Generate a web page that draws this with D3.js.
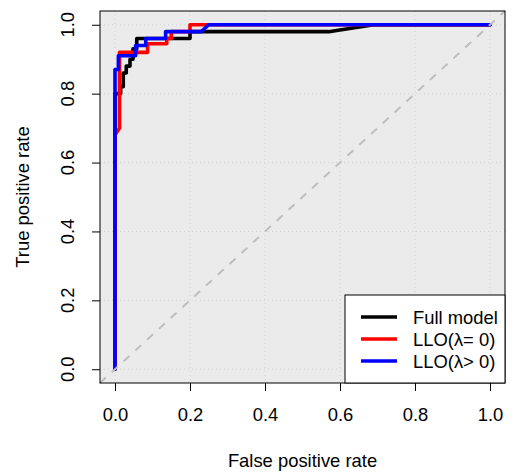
<!DOCTYPE html>
<html>
<head>
<meta charset="utf-8">
<script src="https://cdn.jsdelivr.net/npm/d3@7/dist/d3.min.js"></script>
<style>
html,body{margin:0;padding:0;background:#fff;}
svg{display:block;font-family:"Liberation Sans",Arial,Helvetica,sans-serif;}
</style>
</head>
<body>
<svg id="chart" width="512" height="472"></svg>
<script>
// ---- data ----
const ticks = [0, 0.2, 0.4, 0.6, 0.8, 1.0];
const seriesNames = ["Full model", "LLO(\u03bb= 0)", "LLO(\u03bb> 0)"];
const seriesColors = ["#000000", "#ff0000", "#0000ff"];

const fullFPR = [0, 0, 0.015, 0.015, 0.022, 0.022, 0.03, 0.03, 0.04, 0.04, 0.048, 0.048, 0.058, 0.058, 0.2, 0.2, 0.57, 0.69, 1];
const fullTPR = [0, 0.80, 0.80, 0.82, 0.82, 0.86, 0.86, 0.88, 0.88, 0.90, 0.90, 0.93, 0.93, 0.96, 0.96, 0.98, 0.98, 1.0, 1];

const llo0FPR = [0, 0, 0.012, 0.012, 0.087, 0.087, 0.138, 0.138, 0.15, 0.15, 0.2, 0.2, 1];
const llo0TPR = [0, 0.68, 0.70, 0.92, 0.92, 0.945, 0.945, 0.96, 0.96, 0.98, 0.98, 1.0, 1];

const lloPFPR = [0, 0, 0.009, 0.009, 0.055, 0.055, 0.082, 0.082, 0.135, 0.135, 0.23, 0.25, 1];
const lloPTPR = [0, 0.87, 0.87, 0.91, 0.91, 0.94, 0.94, 0.96, 0.96, 0.98, 0.98, 1.0, 1];

const series = [
  {fpr: fullFPR, tpr: fullTPR},
  {fpr: llo0FPR, tpr: llo0TPR},
  {fpr: lloPFPR, tpr: lloPTPR}
];

// ---- layout ----
const svg = d3.select("#chart");
const box = {l: 100, r: 505, t: 11, b: 383};
const x = d3.scaleLinear().domain([-0.04, 1.04]).range([box.l, box.r]);
const y = d3.scaleLinear().domain([-0.04, 1.04]).range([box.b, box.t]);
const fs = 18.4;

// background
svg.append("rect").attr("x", box.l).attr("y", box.t)
  .attr("width", box.r - box.l).attr("height", box.b - box.t)
  .attr("fill", "#ebebeb");

// grid
const g = svg.append("g");
ticks.forEach(v => {
  g.append("line").attr("x1", box.l).attr("x2", box.r).attr("y1", y(v)).attr("y2", y(v))
    .attr("stroke", "#d3d3d3").attr("stroke-width", 1).attr("stroke-dasharray", "1,3");
  g.append("line").attr("y1", box.t).attr("y2", box.b).attr("x1", x(v)).attr("x2", x(v))
    .attr("stroke", "#d3d3d3").attr("stroke-width", 1).attr("stroke-dasharray", "1,3");
});

// curves
const line = d3.line().x(d => x(d[0])).y(d => y(d[1]));
series.forEach((s, i) => {
  const pts = s.fpr.map((f, k) => [f, s.tpr[k]]);
  svg.append("path").attr("d", line(pts)).attr("fill", "none")
    .attr("stroke", seriesColors[i]).attr("stroke-width", 3.6)
    .attr("stroke-linejoin", "round").attr("stroke-linecap", "round");
});

// diagonal
svg.append("line").attr("x1", x(-0.04)).attr("y1", y(-0.04)).attr("x2", x(1.04)).attr("y2", y(1.04))
  .attr("stroke", "#bebebe").attr("stroke-width", 2).attr("stroke-dasharray", "8,8");

// box
svg.append("rect").attr("x", box.l).attr("y", box.t)
  .attr("width", box.r - box.l).attr("height", box.b - box.t)
  .attr("fill", "none").attr("stroke", "#000").attr("stroke-width", 1);

// x axis
const xAxis = d3.axisBottom(x).tickValues(ticks).tickFormat(d3.format(".1f")).tickSize(8).tickPadding(17);
const gx = svg.append("g").attr("transform", `translate(0,${box.b})`).call(xAxis);
gx.select(".domain").remove();
gx.selectAll("text").attr("font-size", fs).attr("fill", "#000").attr("font-family", null);
gx.selectAll("line").attr("stroke", "#000");

// y axis
const yAxis = d3.axisLeft(y).tickValues(ticks).tickFormat("").tickSize(8);
const gy = svg.append("g").attr("transform", `translate(${box.l},0)`).call(yAxis);
gy.select(".domain").remove();
gy.selectAll("line").attr("stroke", "#000");
ticks.forEach(v => {
  svg.append("text").attr("transform", `translate(67,${y(v)}) rotate(-90)`)
    .attr("text-anchor", "middle").attr("dy", "0.36em").attr("font-size", fs)
    .text(d3.format(".1f")(v));
});

// titles
svg.append("text").attr("x", (x(0) + x(1)) / 2).attr("y", 467)
  .attr("text-anchor", "middle").attr("font-size", fs).text("False positive rate");
svg.append("text").attr("transform", `translate(22,${(y(0) + y(1)) / 2}) rotate(-90)`)
  .attr("text-anchor", "middle").attr("dy", "0.36em").attr("font-size", fs).text("True positive rate");

// legend
const lg = svg.append("g");
lg.append("rect").attr("x", 345).attr("y", 295).attr("width", 505 - 345).attr("height", 383 - 295)
  .attr("fill", "#fff").attr("stroke", "#000").attr("stroke-width", 1);
seriesNames.forEach((n, i) => {
  const yy = 317 + i * 22;
  lg.append("line").attr("x1", 361).attr("x2", 397).attr("y1", yy).attr("y2", yy)
    .attr("stroke", seriesColors[i]).attr("stroke-width", 3.6);
  lg.append("text").attr("x", 413).attr("y", yy).attr("dy", "0.36em").attr("font-size", fs).text(n);
});
</script>
</body>
</html>
